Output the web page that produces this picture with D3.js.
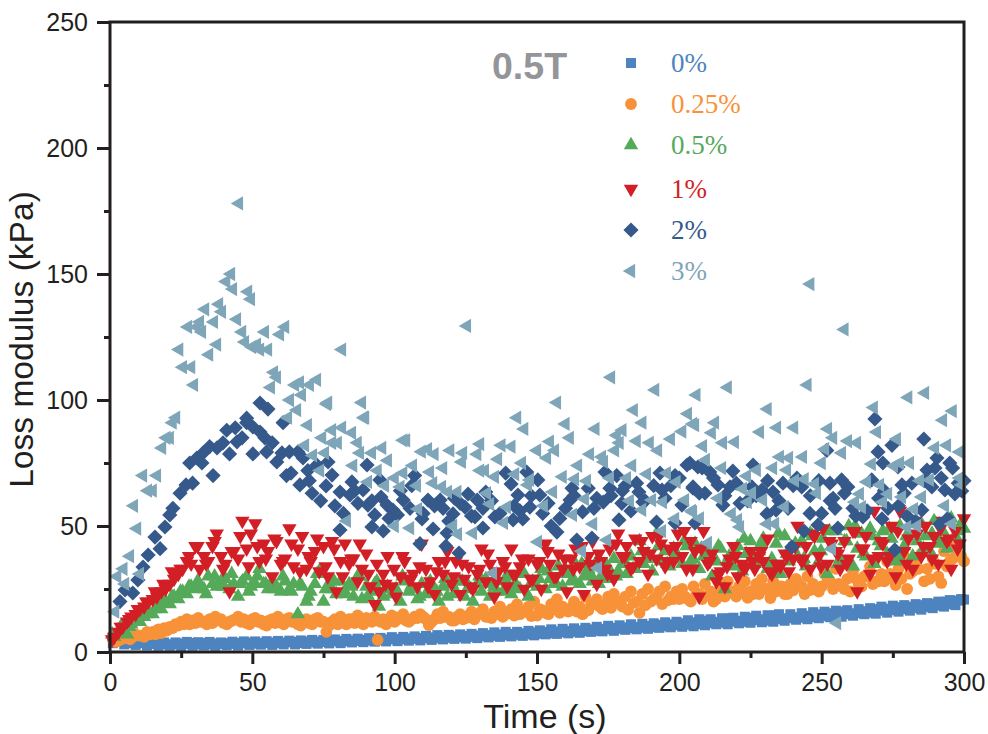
<!DOCTYPE html>
<html><head><meta charset="utf-8">
<style>html,body{margin:0;padding:0;background:#fff;overflow:hidden}svg{display:block}</style>
<script src="https://cdn.jsdelivr.net/npm/d3@7/dist/d3.min.js"></script></head><body>
<svg id="c" width="988" height="734"></svg>
<script>
const xTicks=[0,50,100,150,200,250,300];
const yTicks=[0,50,100,150,200,250];
const labels=["0%","0.25%","0.5%","1%","2%","3%"];
const colors=["#4d84c0","#f79239","#55aa5a","#d21f26","#36598c","#7fa5b9"];
const timesEven=d3.range(2,302,2);
const timesOdd=d3.range(1,301,2);
const times15=d3.range(1.5,301.5,1.5);
const times3=d3.range(0.75,300,3);
const v0=[5,4.5,4,3.5,3.5,3.5,3.2,3.2,3.3,3,
3,3.4,3.2,3.6,3,3.3,3.5,3,3.4,3.2,
3.5,3.2,3.6,3.4,3.8,3.3,3.6,3.5,3.8,3.5,
3.8,4,3.6,4,4.2,3.8,4.2,4,4.4,4.2,
4.4,4.2,4.6,4.4,4.8,4.5,5,4.6,5,5.2,
5,5.4,5.2,5.6,5.4,5.8,5.4,6,5.6,6,
6.2,5.8,6.4,6,6.6,6.2,6.8,6.4,7,6.6,
7.2,6.8,7.4,7,7.8,7.2,8,7.4,8.2,7.8,
8.4,8,8.6,8.2,9,8.4,9.2,9,9.6,9.2,
9.8,9.4,10,9.6,10.4,9.8,10.8,10.2,11,10.6,
11.4,10.8,11.8,11,12.4,11.4,12,11.6,13.4,12,
12.4,12,13.6,12.6,13,12.4,14.6,13,13.4,13.8,
13.6,14,14.4,13.8,15,14.2,15.4,14.6,16,15,
15.4,15.8,16.2,15.6,17,16.4,17.2,16.6,17.8,17,
18,17.4,18.6,17.8,19.2,18.4,20,19,20.4,20.8];
const v0b=[3.5,5,3,4.5,2.8,4,2.6,3.8,2.5,3.8,
2.5,3.8,2.4,4,2.5,3.9,2.6,4,2.5,3.8,
2.7,4.1,2.6,4.2,2.8,4.2,2.9,4.3,2.8,4.4,
3,4.5,3,4.6,3.2,4.8,3.3,4.8,3.4,5,
3.5,5.2,3.8,5.3,3.9,5.5,4.1,5.6,4.2,5.9,
4.3,6,4.5,6.2,4.6,6.4,4.8,6.7,5,6.8,
5.2,7,5.3,7.2,5.5,7.5,5.8,7.8,6,8,
6.2,8,6.4,8.4,6.6,8.6,7,9,7.2,9.2,
7.4,9.4,7.6,9.6,8,10,8.2,10.4,8.4,10.6,
8.8,11,9,11.2,9.2,11.4,9.6,11.8,9.8,12,
10,12.6,10.2,13,10.6,13,11,13.4,11,13.6,
11.4,14,11.6,14.4,11.8,14.6,12,15,12.4,15,
12.8,15.4,13,15.8,13.4,16,13.8,16.4,14,16.6,
14.4,17,15,17.4,15.2,18,15.6,18.4,16,18.6,
16.4,19,16.8,19.4,17.4,20,18,20.6,18.6,21];
const v025=[4,5,5.5,6,6.5,6,7,7,7.5,8.5,
9.5,10.5,11,11,11.5,12,11,11.5,12.5,11.5,
12,13,12,11.5,13,12,11,12.5,11.5,12,
13,12,11,12.5,11.5,13,12,8,12,11,
12.5,13,11.5,12,13.5,12,4.8,13,13,12,
14,12.5,13,13.5,14,10.7,13,13.5,14,12.5,
14,13,14.5,13,15,14,13.5,15,14,16,
14.5,15,16,14.3,14.5,16.5,15,17,15.5,16.5,
17.5,16,15,16.5,19,18,19,17.5,20,18,
16.7,19.5,15.5,18.5,20,22,19,20.5,21,21,
22,20,23,21,22.5,20,24,22,23.5,22,
24,21.5,23,23,25,21.4,24,26,23,24.5,
27,23,24.6,25,26,28,25,27,25,24,
29,26,30,27,28,28,31,26.6,29,25,
32,33,28,29,35,27.4,34,37,38,36];
const v025b=[5,4.5,6,5,7,6.5,8,8,9,9.5,
10,11,12,13,12.5,13.5,12,13,14,13,
11,12.5,14,13,11,13.5,12.5,10.5,13,14,
11,13.5,12.5,10.5,13,11,13.5,12,10.5,13,
14,11,13,14.5,11,13,14,12,11,14.5,
13,15,12,14,15,13,12,15,16,14,
12.5,15,13.5,16,15,17,14,16,18,15,
17,19,16,18,20,17,15.5,19,21,18,
16,20,18,22,19,21,17,22,23,20,
22,24,20,23,25,21,24,26,22,24,
25,21,26,23,27,24,21,26,28,24,
26,28,24,27,29,25,28,26,23,27,
29,26,30,27,24,31,28,33,26,29,
32,27,30,34,28,31,36,29,33,38,
31,35,39,33,37,30,40,36,42,38];
const v05=[6,8,9,7,11,13,12,14,16,15,
18,17,20,19,22,21,24,23,26,25,
27,25,30,27,26,28,29,25,27,22,
28,30,26,27,33,27,25,28,26,24,
28,25,27,15,26,20,24,27,32,20,
26,25,23,28,24,27,22,30,21,26,
24,27,18,22,26,23,25,20,28,24,
25,21,27,23,28,24,20,26,22,27,
24,28,22,26,20,27,24,29,22,26,
28,24,30,23,27,25,31,22,28,26,
33,25,29,27,34,26,31,28,35,27,
30,33,28,36,30,34,29,37,32,35,
31,38,33,44,35,39,32,47,36,40,
34,41,37,35,42,36,43,33,38,40,
30,36,41,25,38,34,42,32,39,44,
35,40,45,33,37,43,31,46,36,41,
38,44,34,47,40,36,45,31,42,48,
37,44,50,34,41,47,38,49,35,44,
48,39,45,36,50,42,47,38,44,51,
46,40,52,43,48,41,53,46,50,49];
const v05b=[7,10,10,13,15,17,20,22,24,26,
28,23,30,26,31,27,24,30,27,25,
30,24,27,22,31,25,28,23,26,30,
22,28,25,23,30,26,22,27,24,29,
23,28,25,30,27,24,29,26,31,27,
29,32,27,33,29,35,31,27,34,30,
36,33,40,37,42,35,39,44,37,41,
37,42,36,40,45,38,43,35,47,39,
43,37,46,40,48,35,44,50,39,46,
42,49,38,46,51,41,47,44,52,48];
const v1=[6,8,10,12,14,15,17,18,20,21,
22,24,25,27,29,31,33,36,35,42,
33,38,36,42,47,38,35,24,40,37,
52,41,47,51,36,43,40,30,44,35,
37,49,34,41,46,33,36,40,32,42,
30,44,24,36,43,35,37,28,33,39,
26,19,24,31,38,26,22,30,36,29,
31,26,43,33,28,23,36,31,40,27,
36,23,29,34,25,31,41,28,35,22,
32,36,26,41,31,34,25,37,29,35,
25,43,35,30,39,33,24,37,41,34,
23,38,44,27,36,33,41,29,47,38,
42,33,45,36,40,31,46,37,43,34,
41,36,47,38,33,44,40,22,48,35,
39,28,32,26,37,42,30,35,34,40,
33,38,36,45,31,35,34,39,32,37,
50,36,42,33,46,38,49,35,43,40,
33,44,37,48,24,41,46,31,56,38,
43,36,50,30,56,40,45,33,47,38,
50,42,46,35,52,44,33,48,43,53];
const v1b=[5,10,13,17,20,24,27,32,33,38,
42,35,44,33,40,46,34,42,37,45,
36,43,32,38,45,34,41,30,37,43,
31,35,27,33,38,29,34,26,32,36,
30,35,26,33,39,28,34,31,37,29,
36,40,30,37,33,42,35,39,31,43,
38,34,44,39,46,36,42,48,33,41,
36,31,34,38,33,36,40,32,35,38,
42,37,47,34,44,39,35,48,41,37,
44,38,48,35,52,42,37,49,45,41];
const t2=[3.5,8,5.3,9.8,11.6,13.4,17.6,15.8,19.3,21,22.1,24.6,26.7,29,36.2,28,30.5,32.3,32.7,35,37.6,39.7,42,50.2,41,44,46.4,44.6,48,50.2,52.7,54.4,57,55,58.6,60.4,63,66,67.8,52.7,55.5,60.8,48,63.6,66.7,71,75.9,78,69.5,72.7,76.6,90.3,80.8,85,79,88.9,84.3,87.1,90.6,95.2,97.3,99.4,93,92,96,80.8,94.8,101,107,103,105.4,109.6,113.5,111.7,116,117,108.9,118.4,118,122.6,121,125.8,129,120.5,124.7,128.2,131,132,135.2,141.6,145,143.3,140.9,139,146.4,147.5,150.3,151,153.9,158,157,162.3,161.6,166,171,173.3,175.6,173.9,178,181,185,185.8,179.8,178.8,169.3,164,193.2,198.5,193.9,202.7,204.8,206.5,187.2,200.9,192,198.5,205.5,203.7,208,210.7,218.8,225.9,204.8,209,213.6,217.8,215.3,221.3,225.5,229,232.9,236.4,241.3,243,230.8,234,238.2,239.5,243.8,245.9,248.7,250,252.9,257,259.2,254,254.7,255.7,261,264.5,271.2,275.7,273.3,280,285.2,278.2,281.7,288.7,268.7,269.8,274.7,271.5,251.8,285.9,290.5,289.8,287,296,300,293.3,296.8,299.2,294.3,291.5,276.8,267.6,
62,70,74,82,86,92,98,102,106,110,114,119,123,127,131,134,137,142,144,148,152,155,160,163,168,170,176,180,183,188,191,195,197,200,207,212,216,220,224,227,231,235,240,246,249,253,258,262,266,270,272,277,279,283,286,292,295,298];
const v2=[20,23.4,24.6,28.6,33.7,38.5,41,45.6,49.6,54.4,57,63,66.3,67,70,75,77,75,79,81.5,81,83,78.6,78.6,88,89,85,83.4,91,89.3,87.3,85,83,79.4,75.4,79,79.4,79.4,77,98.8,96.4,91,92.8,71,66.3,63,65.9,70.2,72,74.2,75.4,74.2,63.5,67.5,58,64.3,62.3,59,58.3,61.5,58.3,56.3,54.4,49.6,48,48.4,68.3,54.4,70,60.3,57,52.8,48.8,60.3,60.3,57,43,47.2,42,39.3,61,62.7,60.3,54.8,57.5,53.6,49.2,63.5,53.6,52.4,52.8,62.3,66.7,71,71.4,57.5,68.3,62.3,59,53,47.6,65,60.3,55.6,61,59.5,65,71.4,70,66,67,63.5,59,52.4,45.2,44.4,71,70,64.3,74.2,65,73.4,59.5,58.3,51.6,51.2,51.2,75,73,71.4,71.8,74.2,65.5,63,66.3,65.5,58.3,59,65.5,64.3,63.5,67,69,65.5,54.8,56.3,57,41.7,48,55,50.4,55,67,68.3,65.5,61,57,49.2,57,53.6,52.8,40.5,57,54,56.3,66.3,67,65.5,92.5,79.4,82,75,80,84.5,77,73,72.2,73,68,64.3,62.7,63.9,53,50.8,73.4,68.3,
70,68,60,55,64,60,53,64,66,55,58,52,59,54,57,60,55,58,56,62,55,50,57,62,65,57,62,64,56,60,66,61,66,69,63,69,62,67,60,62,68,60,66,62,68,60,63,54,56,61,64,58,63,52,68,69,75,67];
const t3=[45.3,42.5,40.8,43.2,48.5,49.5,38.3,33.4,39.3,44.6,36.5,31.6,27.4,30.5,32.3,61.5,59.7,54.4,46.4,47.4,37.6,34.8,24.3,55.5,51.6,49.9,52.7,81.5,25.6,28.5,29.5,57.6,58.6,56.5,65,66.7,70.2,72.7,67.4,63.2,76.2,88.5,65.7,89.6,62.5,23.2,22,21,18.3,19.8,11.6,16.5,13.3,15,8.4,9.5,1.8,2.5,4.7,5.3,10.5,7,69.5,76.6,89.2,74.5,78,81.5,80,78,85,87,68.5,71.3,75.5,73.8,85.4,87.8,92,95.6,97.6,94,90.6,96.6,100,102,103,103,83.2,100,125.4,176,191.5,206,157,184,143,160,187,203,170.5,145.5,205.5,180,201,178,161.5,197,185,189.6,104,130,137.5,141,154.5,179,192.5,119.5,111.7,109.5,114,124,129,150,156.3,153.5,168.6,177.4,172.8,136.3,123.6,173.5,144.7,164.4,183.4,106.4,117,130,131.7,112.4,188.6,142.3,195.6,159,135.2,175.6,181.6,147.5,199,163.3,167.5,107.8,113.5,116.6,118.7,122,146.8,155.6,166.8,202,194.2,190.4,182.6,132.4,133.5,139.4,152.4,108.2,186.9,204.4,162.6,198.5,169.7,138.4,120.5,105.4,122.2,127.5,193.9,150.3,174.6,165.8,134.5,171.4,217,245,246,258,280.4,286.3,268.3,231,296,292.6,212.5,204.8,234.3,240.3,228.3,252.2,211.4,254,269.4,276.4,259.2,262.4,215.3,219.5,208.3,289.8,294,298.5,251.2,243.4,235.3,238.5,257.1,209.3,250,275.4,277.5,281,267.6,215,232.9,237.8,227.2,223.7,240.6,244,265.9,288,284.5,298.5,270.5,299.2,247.6,222.3,248.3,273.3,263.4,225.5,213.6,229.4,278.2,285.2,224,271.5,261.7,264.1,282.4,293.3,237,218.4,204.8,207.2,220.6,221.3,233.6,230.8,295.7,283.5,280,210,253.6,255.4];
const v3=[178,150,147,144,143,140,138,136,135,132,131,131,129,129,127,129,126,127,127,123,122,118,120,120,122,121,120,120,113,113,106,111,109,105,106,107,106,108,102,100,98.4,99,96,93,93,93,91,85,81,85,70,70,64,64,58,49,16,30,33,27,31,38,90,99,93,85,88,89,83,83,87,83,82,78,79,72,74,79,79,81,76,72,67.5,66,69,65.5,71,84,52,50,129.4,109,104,102,99,96,93,90.5,91,94.5,88.5,88.5,90,88,87.5,86,85,84.5,83.7,83,84,82.5,82,81.5,83.5,83,80,80,80.5,79.5,78.5,79,78.5,80,80,77,78.5,80,77.4,76.5,75.4,75.4,75,74,74,74,73,72,72,71.4,70.6,70.6,71,69.5,69.5,69,69,68.3,67.5,68.6,67.9,66,67,65.5,63.5,63.5,66.3,63.5,60.7,60.3,59.5,60.3,60,63,58.7,57.5,58,56.7,56.4,56,54.4,52.8,50.8,51.2,50,49.2,46.8,47.2,48,43.7,44.4,40,31.3,33.3,105,106,146,128,101,102.8,97,96.4,95.6,92,91,90.5,89,89,87.3,88.5,87,85,87.3,84.5,83.7,83,83,83.3,81.7,81,82,79.4,80.5,77.4,77.4,77,79,76.2,75,73.8,75,75,74.6,73,73,72.2,72.2,69.8,68,68.6,67.5,68.3,68,69,66.3,66.3,66.7,64.7,63,62.7,62.7,63,61,60.3,61.5,61.5,59.5,59.5,59.5,57.5,56.7,58,57.5,54.8,55.5,53,52.4,49.6,50.8,50.8,50.8,50,49.6,43.3,40.9,11.5];
const rot=[0,0,0,180,45,-90];
const stype=[d3.symbolSquare,d3.symbolCircle,d3.symbolTriangle,d3.symbolTriangle,d3.symbolSquare,d3.symbolTriangle];
const ssize=[100,110,90,90,115,88];
const series=[
 [timesEven.concat(timesOdd),v0.concat(v0b)],
 [timesEven.concat(timesOdd),v025.concat(v025b)],
 [times15.concat(times3),v05.concat(v05b)],
 [times15.concat(times3),v1.concat(v1b)],
 [t2,v2],[t3,v3]];

const svg=d3.select("#c");
const x=d3.scaleLinear().domain([0,300]).range([110,964]);
const y=d3.scaleLinear().domain([0,250]).range([652,22]);
const ink="#231f20", font="'Liberation Sans',Arial,sans-serif";

series.forEach(([ts,vs],i)=>{
  const path=d3.symbol().type(stype[i]).size(ssize[i])();
  svg.append("g").selectAll("path").data(vs).join("path")
    .attr("d",path).attr("fill",colors[i])
    .attr("transform",(d,j)=>`translate(${x(ts[j])},${y(d)}) rotate(${rot[i]})`);
});

const minorX=d3.range(25,300,50), minorY=d3.range(25,250,50);
function axisStyle(g){
  g.select(".domain").remove();
  g.selectAll("line").attr("stroke",ink).attr("stroke-width",3);
  g.selectAll("text").attr("fill",ink).attr("font-family",font).attr("font-size",25);
}
svg.append("g").attr("transform","translate(0,652)")
  .call(d3.axisBottom(x).tickValues(xTicks).tickFormat(d3.format("d")).tickSize(12).tickPadding(9)).call(axisStyle);
svg.append("g").attr("transform","translate(110,0)")
  .call(d3.axisLeft(y).tickValues(yTicks).tickFormat(d3.format("d")).tickSize(13).tickPadding(9)).call(axisStyle);
svg.append("g").attr("transform","translate(0,652)")
  .call(d3.axisBottom(x).tickValues(minorX).tickFormat("").tickSize(6)).call(axisStyle);
svg.append("g").attr("transform","translate(110,0)")
  .call(d3.axisLeft(y).tickValues(minorY).tickFormat("").tickSize(6)).call(axisStyle);
svg.append("path").attr("d",`M${x(0)},${y(0)}V${y(250)}H${x(300)}V${y(0)}H${x(0)}`)
  .attr("fill","none").attr("stroke",ink).attr("stroke-width",3);

svg.append("text").attr("x",545).attr("y",728).attr("text-anchor","middle").attr("font-family",font).attr("font-size",34).attr("fill",ink).text("Time (s)");
svg.append("text").attr("transform","translate(33,339.5) rotate(-90)").attr("text-anchor","middle").attr("font-family",font).attr("font-size",33.6).attr("fill",ink).text("Loss modulus (kPa)");
svg.append("text").attr("x",492).attr("y",79).attr("font-family",font).attr("font-weight","bold").attr("font-size",37.5).attr("fill","#939598").text("0.5T");

const legendY=[63,104,145,189,230,271];
labels.forEach((l,i)=>{
  svg.append("path").attr("d",d3.symbol().type(stype[i]).size(ssize[i])())
    .attr("fill",colors[i]).attr("transform",`translate(631,${legendY[i]}) rotate(${rot[i]})`);
  svg.append("text").attr("x",671).attr("y",legendY[i]+9).attr("font-family","'Liberation Serif',serif").attr("font-size",27).attr("fill",colors[i]).text(l);
});
</script></body></html>
